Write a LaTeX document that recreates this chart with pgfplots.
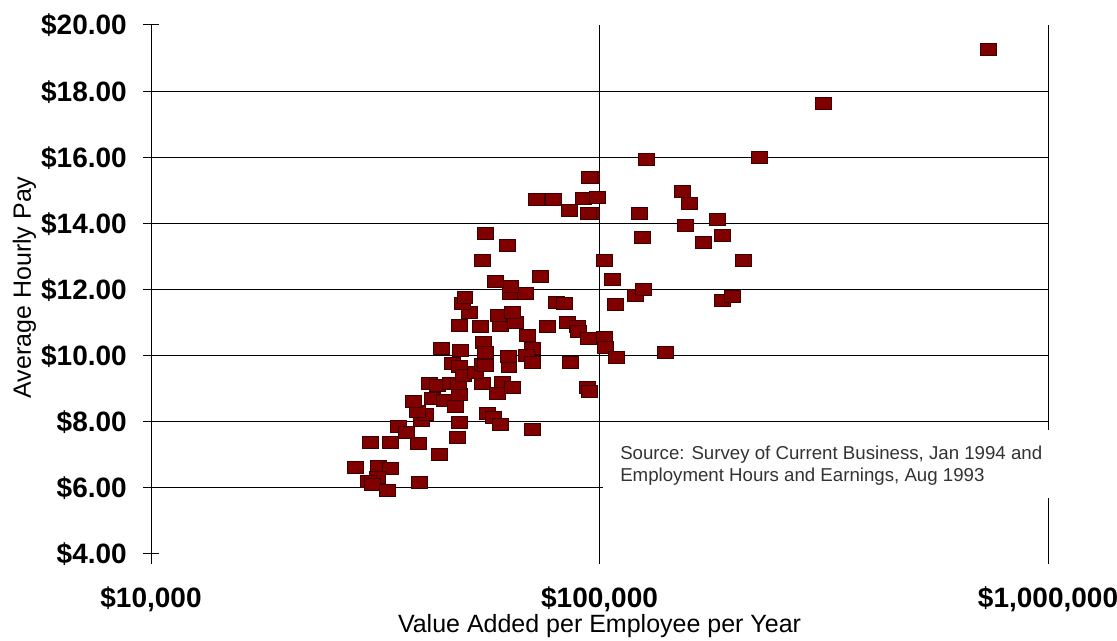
\documentclass[border=0pt]{standalone}
\usepackage{pgfplots}
\pgfplotsset{compat=1.18}
\usepackage{fontspec}
\setmainfont{Liberation Sans}
\definecolor{mk}{RGB}{128,0,0}
\definecolor{mkb}{RGB}{60,0,0}
\begin{document}
\begin{tikzpicture}
\path[use as bounding box] (0,0) rectangle (837.75pt,480.75pt);
\begin{axis}[
  at={(113.25pt,57.75pt)}, anchor=south west,
  scale only axis, width=672.75pt, height=404.25pt,
  xmode=log, xmin=10000, xmax=1000000, ymin=3.6975, ymax=20,
  axis line style={draw=none},
  xtick={10000,100000,1000000},
  minor xtick={},
  xticklabels={{\$10,000},{\$100,000},{\$1,000,000}},
  xtick style={draw=none},
  xmajorgrids,
  grid style={black, line width=0.75pt},
  ytick={4,6,...,20},
  yticklabels={\$4.00,\$6.00,\$8.00,\$10.00,\$12.00,\$14.00,\$16.00,\$18.00,\$20.00},
  ytick pos=left,
  ytick style={black, line width=0.75pt},
  major tick length=12pt,
  tick align=center,
  extra y ticks={6,8,...,18},
  extra y tick labels={},
  extra y tick style={grid=major},
  tick label style={font=\fontsize{21}{25}\selectfont\bfseries},
  yticklabel style={anchor=base east, inner sep=0pt, xshift=-12pt, yshift=-7.5pt},
  xticklabel style={anchor=base, inner sep=0pt, text depth=0pt, yshift=-26.75pt},
  xlabel={Value Added per Employee per Year},
  ylabel={Average Hourly Pay},
  label style={font=\fontsize{18.75}{22}\selectfont},
  xlabel style={at={(axis description cs:0.5,-0.1270)}, anchor=base, inner sep=0pt, text height=13.5pt},
  ylabel style={at={(axis description cs:-0.1338,0.513)}, anchor=base},
  clip=false,
]
\addplot[only marks, mark=square*, mark size=4.5pt,
  mark options={fill=mk, draw=mkb, line width=0.6pt, xscale=1.333}]
table {
x y
28500 6.63
30800 7.39
32100 6.66
34100 6.60
31900 6.33
30600 6.21
31100 6.09
33600 5.93
39600 6.18
34100 7.39
39400 7.36
35700 7.87
37200 7.69
43900 7.02
48100 7.54
48600 7.99
40000 8.05
41000 8.23
39200 8.32
38400 8.63
42300 8.72
45200 8.66
47600 8.45
48600 8.84
41700 9.17
43400 9.11
46400 9.17
48400 9.17
54700 9.17
60600 9.20
59100 8.87
64100 9.05
56100 8.26
57900 8.14
60000 7.93
70700 7.78
46900 9.75
48600 9.66
49600 9.41
52800 9.50
54700 9.72
55600 9.69
62800 9.66
62500 9.99
44300 10.23
48900 10.17
55000 10.41
55600 10.11
68900 10.62
70700 10.23
68600 10.02
70700 9.78
54200 10.87
48600 10.90
60000 10.90
64800 10.99
59400 11.23
64100 11.32
51400 11.32
49400 11.59
50100 11.77
63200 11.89
68200 11.89
63200 12.08
58500 12.23
74000 12.41
54700 12.89
62200 13.32
55600 13.71
80000 11.62
83300 11.59
76400 10.87
84600 10.99
89100 10.87
89600 10.74
94300 10.53
102300 10.56
102900 10.26
108900 9.96
86000 9.78
93800 9.05
94800 8.93
102300 12.89
106600 12.32
108300 11.56
72500 14.71
78800 14.71
91900 14.77
98700 14.80
85500 14.40
95700 14.31
94500 14.29
95700 15.40
95000 15.38
127000 15.92
122500 14.31
124400 13.59
120000 11.83
125000 12.01
140000 10.11
152700 14.98
158300 14.59
155100 13.95
182800 14.13
187600 13.65
170200 13.41
208900 12.89
187600 11.68
197400 11.80
226800 16.01
315000 17.64
734700 19.27
};
\end{axis}
\fill[white] (452.25pt,107.25pt) rectangle (792pt,158.25pt);
\node[anchor=base west, inner sep=0pt, text=black!80, font=\fontsize{14}{16}\selectfont] at (465pt,135.75pt) {Source: Survey of Current Business, Jan 1994 and};
\node[anchor=base west, inner sep=0pt, text=black!80, font=\fontsize{14}{16}\selectfont] at (465pt,119.25pt) {Employment Hours and Earnings, Aug 1993};
\end{tikzpicture}
\end{document}
